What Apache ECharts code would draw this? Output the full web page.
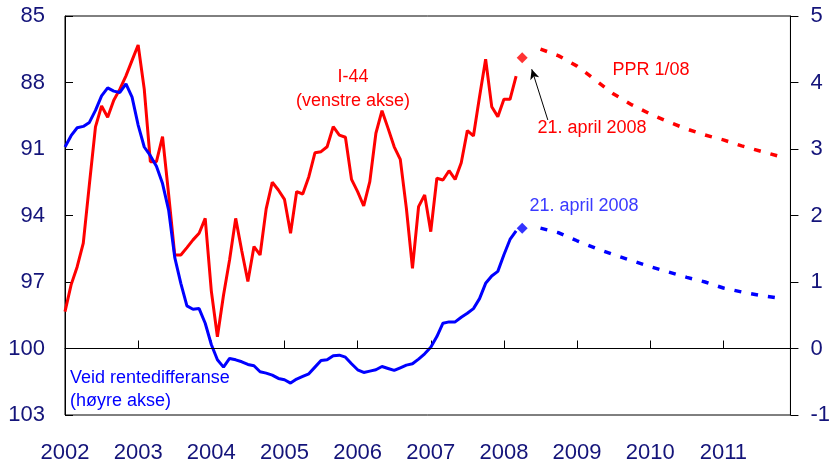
<!DOCTYPE html>
<html>
<head>
<meta charset="utf-8">
<script src="https://cdn.jsdelivr.net/npm/echarts@6/dist/echarts.min.js"></script>
<style>
  html, body { margin: 0; padding: 0; background: #fff; }
  #main { width: 833px; height: 468px; }
</style>
</head>
<body>
<div id="main"></div>
<script>
// I-44 (left axis, inverted), monthly from Jan 2002
const i44Start = 2002
const i44 = [
  98.34, 97.13, 96.31, 95.25, 92.6, 90.0, 89.06, 89.57, 88.8, 88.3, 87.7, 87.0,
  86.31, 88.3, 91.57, 91.57, 90.44, 93.05, 95.78, 95.78, 95.45, 95.1, 94.8, 94.13,
  97.4, 99.47, 97.6, 96.0, 94.13, 95.6, 96.98, 95.4, 95.78, 93.7, 92.5, 92.85,
  93.27, 94.8, 92.92, 93.03, 92.25, 91.17, 91.12, 90.9, 89.99, 90.37, 90.47, 92.37,
  92.92, 93.57, 92.47, 90.29, 89.27, 90.07, 90.9, 91.47, 93.68, 96.38, 93.6, 93.07,
  94.73, 92.32, 92.4, 91.98, 92.37, 91.62, 90.17, 90.41, 88.64, 86.95, 89.09, 89.54,
  88.76, 88.76, 87.71
]
// weighted interest differential (right axis), monthly from Jan 2002
const rente = [
  3.03, 3.2, 3.32, 3.34, 3.40, 3.58, 3.80, 3.92, 3.87, 3.85, 3.98, 3.78,
  3.36, 3.03, 2.9, 2.74, 2.48, 2.08, 1.37, 0.98, 0.64, 0.59, 0.6, 0.38,
  0.06, -0.17, -0.28, -0.15, -0.17, -0.2, -0.24, -0.26, -0.35, -0.37, -0.4, -0.45,
  -0.47, -0.52, -0.46, -0.42, -0.38, -0.28, -0.18, -0.17, -0.11, -0.1, -0.13, -0.23,
  -0.32, -0.36, -0.34, -0.32, -0.27, -0.3, -0.33, -0.29, -0.25, -0.23, -0.16, -0.08,
  0.02, 0.18, 0.38, 0.4, 0.4, 0.47, 0.53, 0.6, 0.75, 0.98, 1.09, 1.16,
  1.41, 1.64, 1.77
]
// PPR 1/08 projections, quarterly from 2008 Q3
const fcStart = 2008.5
const i44Fc = [86.49, 86.80, 87.26, 87.89, 88.52, 89.01, 89.42, 89.78, 90.10, 90.37, 90.59, 90.86, 91.09, 91.32]
const renteFc = [1.81, 1.74, 1.62, 1.51, 1.41, 1.32, 1.23, 1.15, 1.07, 1.0, 0.91, 0.85, 0.80, 0.76]
// 21 April 2008 observations
const aprilDate = 2008.25
const i44April = 86.88
const renteApril = 1.81

const leftTicks = { min: 85, max: 103, step: 3 }
const rightTicks = { min: -1, max: 5, step: 1 }
const yearRange = [2002, 2011 + 11 / 12]

const navy = '#14147a'
const font = '"Liberation Sans", Arial, sans-serif'

const monthly = arr => arr.map((v, i) => [i44Start + i / 12, v])
const quarterly = arr => arr.map((v, i) => [fcStart + i * 0.25, v])

let myChart = echarts.init(document.getElementById('main'))
let option = {
  animation: false,
  grid: {
    left: 65, right: 41, top: 16, bottom: 53,
    show: true, borderColor: '#000', borderWidth: 1
  },
  xAxis: {
    type: 'value',
    min: yearRange[0],
    max: yearRange[1],
    interval: 1,
    axisLine: { show: true, lineStyle: { color: '#000', width: 1 } },
    axisTick: { show: true, inside: true, length: 8, lineStyle: { color: '#000' } },
    splitLine: { show: false },
    axisLabel: {
      color: navy, fontSize: 22, fontFamily: font, margin: 27,
      showMaxLabel: false,
      formatter: v => Number.isInteger(v) ? String(v) : ''
    }
  },
  yAxis: [
    {
      type: 'value',
      inverse: true,
      min: leftTicks.min, max: leftTicks.max, interval: leftTicks.step,
      axisLine: { show: true, lineStyle: { color: '#000', width: 1 } },
      axisTick: { show: true, inside: true, length: 8, lineStyle: { color: '#000' } },
      splitLine: { show: false },
      axisLabel: { color: navy, fontSize: 22, fontFamily: font, margin: 20 }
    },
    {
      type: 'value',
      position: 'right',
      min: rightTicks.min, max: rightTicks.max, interval: rightTicks.step,
      axisLine: { show: true, lineStyle: { color: '#000', width: 1 } },
      axisTick: { show: true, inside: false, length: 8, lineStyle: { color: '#000' } },
      splitLine: { show: false },
      axisLabel: { color: navy, fontSize: 22, fontFamily: font, margin: 20 }
    }
  ],
  series: [
    {
      name: 'Veid rentedifferanse',
      type: 'line',
      yAxisIndex: 1,
      data: monthly(rente),
      showSymbol: false,
      lineStyle: { color: '#0000ff', width: 3 },
      z: 3,
      markLine: {
        silent: true,
        symbol: 'none',
        label: { show: false },
        lineStyle: { color: '#000', width: 1, type: 'solid' },
        data: [{ yAxis: 0 }]
      }
    },
    {
      name: 'I-44',
      type: 'line',
      yAxisIndex: 0,
      data: monthly(i44),
      showSymbol: false,
      lineStyle: { color: '#ff0000', width: 3 },
      z: 2,
      markLine: {
        silent: true,
        symbol: ['none', 'arrow'],
        symbolSize: [7, 10],
        label: { show: false },
        lineStyle: { color: '#000', width: 1, type: 'solid' },
        data: [[{ coord: [2008.6, 89.69] }, { coord: [2008.38, 87.40] }]]
      }
    },
    {
      name: 'I-44 PPR',
      type: 'line',
      yAxisIndex: 0,
      data: quarterly(i44Fc),
      showSymbol: false,
      lineStyle: { color: '#ff0000', width: 3.5, type: [7, 10] }
    },
    {
      name: 'Rente PPR',
      type: 'line',
      yAxisIndex: 1,
      data: quarterly(renteFc),
      showSymbol: false,
      lineStyle: { color: '#0000ff', width: 3.5, type: [7, 10] }
    },
    {
      type: 'scatter',
      yAxisIndex: 0,
      symbol: 'diamond',
      symbolSize: 11,
      itemStyle: { color: '#ff0000' },
      data: [[aprilDate, i44April]]
    },
    {
      type: 'scatter',
      yAxisIndex: 1,
      symbol: 'diamond',
      symbolSize: 11,
      itemStyle: { color: '#0000ff' },
      data: [[aprilDate, renteApril]]
    }
  ],
  graphic: [
    { type: 'text', x: 353, y: 77, style: { text: 'I-44', fill: '#ff0000', font: '18px ' + font, textAlign: 'center', textVerticalAlign: 'middle' } },
    { type: 'text', x: 353, y: 101, style: { text: '(venstre akse)', fill: '#ff0000', font: '18px ' + font, textAlign: 'center', textVerticalAlign: 'middle' } },
    { type: 'text', x: 651, y: 70, style: { text: 'PPR 1/08', fill: '#ff0000', font: '18px ' + font, textAlign: 'center', textVerticalAlign: 'middle' } },
    { type: 'text', x: 592, y: 128, style: { text: '21. april 2008', fill: '#ff0000', font: '18px ' + font, textAlign: 'center', textVerticalAlign: 'middle' } },
    { type: 'text', x: 584, y: 206, style: { text: '21. april 2008', fill: '#3a3aff', font: '18px ' + font, textAlign: 'center', textVerticalAlign: 'middle' } },
    { type: 'text', x: 70, y: 378, style: { text: 'Veid rentedifferanse', fill: '#0000ff', font: '18px ' + font, textAlign: 'left', textVerticalAlign: 'middle' } },
    { type: 'text', x: 70, y: 401, style: { text: '(høyre akse)', fill: '#0000ff', font: '18px ' + font, textAlign: 'left', textVerticalAlign: 'middle' } }
  ]
}
myChart.setOption(option)
</script>
</body>
</html>
